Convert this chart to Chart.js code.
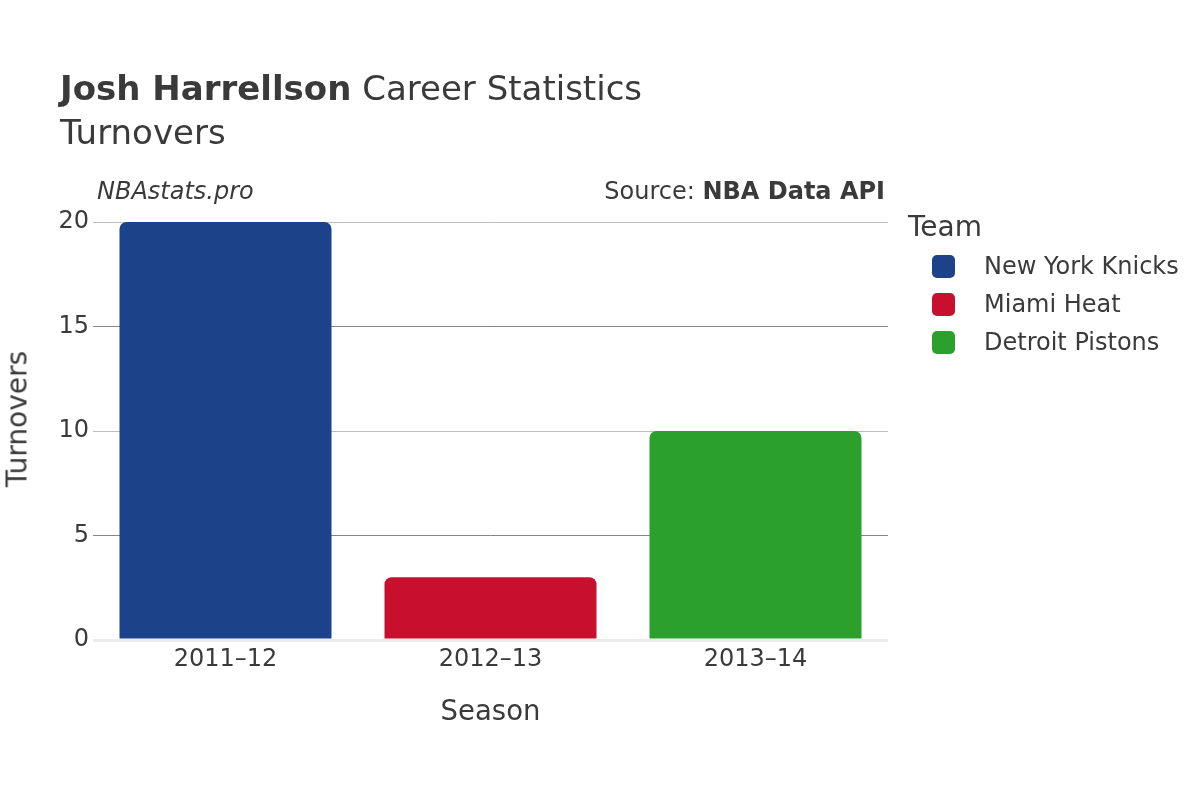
<!DOCTYPE html>
<html>
<head>
<meta charset="utf-8">
<script src="https://cdn.jsdelivr.net/npm/chart.js@4.4.1/dist/chart.umd.min.js"></script>
<style>
  html, body { margin: 0; padding: 0; background: #fff; }
  body { width: 1200px; height: 800px; position: relative; overflow: hidden; font-family: "DejaVu Sans", sans-serif; color: #3a3a3a; }
  #wrap { position: absolute; left: 0; top: 0; width: 1200px; height: 800px; }
  .txt { position: absolute; white-space: nowrap; }
  #title { left: 60px; top: 68px; font-size: 34px; }
  #title b { font-weight: bold; }
  #sub { left: 60px; top: 112px; font-size: 34px; }
  #brand { left: 97px; top: 177px; font-size: 24px; font-style: italic; }
  #source { right: 315px; top: 177px; font-size: 24px; }
  #ytitle { left: 17px; top: 419px; font-size: 28px; transform: translate(-50%, -50%) rotate(-90deg); }
  #legend { position: absolute; left: 908px; top: 210px; }
  #legend .head { font-size: 28px; margin-bottom: 4px; }
  #legend .item { display: flex; align-items: center; height: 38px; font-size: 24px; }
  #legend .sw { width: 23px; height: 23px; border-radius: 5px; margin-left: 24px; margin-right: 29px; }
</style>
</head>
<body>
<div id="wrap"><canvas id="chart" width="1200" height="800"></canvas></div>
<div class="txt" id="title"><b>Josh Harrellson</b> Career Statistics</div>
<div class="txt" id="sub">Turnovers</div>
<div class="txt" id="brand">NBAstats.pro</div>
<div class="txt" id="source">Source: <b>NBA Data API</b></div>
<div class="txt" id="ytitle">Turnovers</div>
<div id="legend"></div>
<script>
// datos
const temporadas = ['2011–12', '2012–13', '2013–14'];
const equipos = ['New York Knicks', 'Miami Heat', 'Detroit Pistons'];
const perdidas = [20, 3, 10];
const colores = ['#1c4389', '#c8102e', '#2ca02c'];
const ticksY = [0, 5, 10, 15, 20];

// leyenda html
const leg = document.getElementById('legend');
leg.innerHTML = '<div class="head">Team</div>' + equipos.map((t, i) =>
  `<div class="item"><span class="sw" style="background:${colores[i]}"></span>${t}</div>`).join('');

Chart.defaults.font.family = '"DejaVu Sans", sans-serif';
Chart.defaults.color = '#3a3a3a';

new Chart(document.getElementById('chart'), {
  type: 'bar',
  data: {
    labels: temporadas,
    datasets: [{
      label: 'Turnovers',
      data: perdidas,
      backgroundColor: colores,
      borderRadius: { topLeft: 7, topRight: 7 },
      borderSkipped: 'bottom',
      categoryPercentage: 1,
      barPercentage: 0.8
    }]
  },
  options: {
    responsive: false,
    animation: false,
    layout: { padding: { left: 0, right: 312, top: 222, bottom: 71 } },
    plugins: { legend: { display: false }, tooltip: { enabled: false } },
    scales: {
      x: {
        grid: { display: false, drawTicks: false },
        border: { display: false },
        ticks: { font: { size: 24 }, padding: 5, color: '#3a3a3a' },
        title: { display: true, text: 'Season', font: { size: 27.5 }, padding: { top: 0, bottom: 0 }, color: '#3a3a3a' },
        afterFit: s => { s.height = 89; }
      },
      y: {
        min: 0, max: 20,
        afterBuildTicks: s => { s.ticks = ticksY.map(v => ({ value: v })); },
        grid: {
          drawTicks: false,
          color: c => c.tick.value === 0 ? '#ebebeb' : (c.tick.value % 10 === 0 ? '#bdbdbd' : '#858585'),
          lineWidth: c => c.tick.value === 0 ? 3 : 1
        },
        border: { display: false },
        ticks: { font: { size: 24 }, padding: 4, color: '#3a3a3a' },
        afterFit: s => { s.width = 93; }
      }
    }
  }
});
</script>
</body>
</html>
